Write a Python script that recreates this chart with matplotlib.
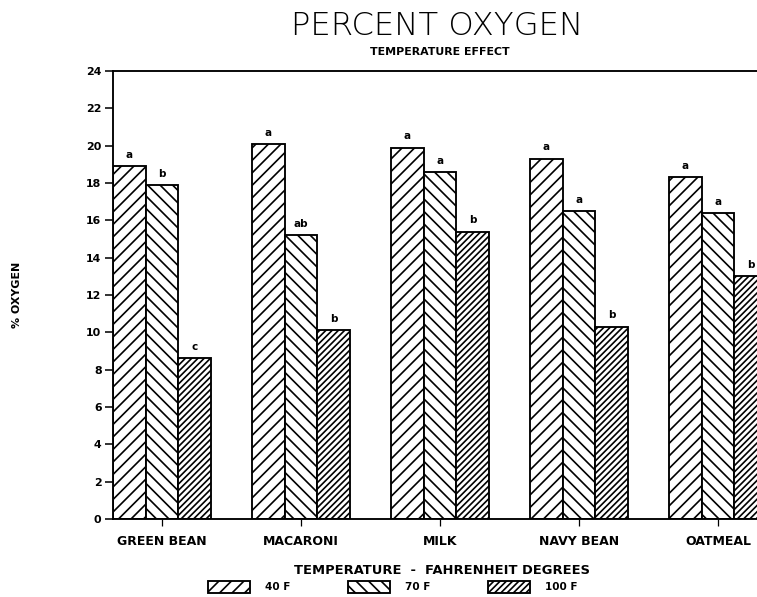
import numpy as np
import matplotlib
matplotlib.use('Agg')
from matplotlib import pyplot as plt

# data
foods = ['GREEN BEAN', 'MACARONI', 'MILK', 'NAVY BEAN', 'OATMEAL']
temps = ['40 F', '70 F', '100 F']
oxygen_40 = [18.9, 20.1, 19.9, 19.3, 18.3]
oxygen_70 = [17.9, 15.2, 18.6, 16.5, 16.4]
oxygen_100 = [8.6, 10.1, 15.4, 10.3, 13.0]
letters_40 = ['a', 'a', 'a', 'a', 'a']
letters_70 = ['b', 'ab', 'a', 'a', 'a']
letters_100 = ['c', 'b', 'b', 'b', 'b']

series = [oxygen_40, oxygen_70, oxygen_100]
letters = [letters_40, letters_70, letters_100]
hatches = ['//', '\\\\', '////']

plt.rcParams['hatch.linewidth'] = 1.6
plt.rcParams['font.family'] = ['DejaVu Sans']

DPI = 75
fig = plt.figure(figsize=(757 / DPI, 597 / DPI), dpi=DPI)
ax_w = 0.9095
ax = fig.add_axes([113 / 757, 78 / 597, ax_w, 448 / 597])

w = 0.2353
x = np.arange(len(foods))
bars = []
for i, (vals, hatch) in enumerate(zip(series, hatches)):
    pos = x + (i - 1) * w
    b = ax.bar(pos, vals, width=w, facecolor='white', edgecolor='black',
               linewidth=1.8, hatch=hatch, label=temps[i])
    bars.append(b)
    for xp, v, lt in zip(pos, vals, letters[i]):
        ax.annotate(lt, (xp, v), xytext=(0, 6), textcoords='offset points',
                    ha='center', va='bottom', fontsize=10, fontweight='bold')

ax.set_xlim(-1.5 * w, 4.6)
ax.set_ylim(0, 24)
ax.set_yticks(np.arange(0, 25, 2))
ax.set_xticks(x)
ax.set_xticklabels(foods, fontsize=12, fontweight='bold')
for lab in ax.get_yticklabels():
    lab.set_fontweight('bold')
ax.tick_params(axis='y', direction='out', length=8, width=1.5, labelsize=10.5, pad=3)
ax.tick_params(axis='x', direction='out', length=7, width=1.2, pad=8)
ax.spines['right'].set_visible(False)
for s in ['left', 'bottom', 'top']:
    ax.spines[s].set_linewidth(1.8)
ax.set_ylabel('% OXYGEN', fontsize=10.5, fontweight='bold')
ax.yaxis.set_label_coords((22 - 113) / (ax_w * 757), 0.5)

fig.text(437 / 757, 1 - 26 / 597, 'PERCENT OXYGEN', ha='center', va='center',
         fontsize=31, fontweight='light')
fig.text(440 / 757, 1 - 52 / 597, 'TEMPERATURE EFFECT', ha='center', va='center',
         fontsize=10.5, fontweight='bold')

fig.text(442 / 757, 1 - 571 / 597, 'TEMPERATURE  -  FAHRENHEIT DEGREES',
         ha='center', va='center', fontsize=12.5, fontweight='bold')
leg = fig.legend(handles=bars, labels=temps, loc='center',
                 bbox_to_anchor=(393 / 757, 1 - 587 / 597), ncol=3,
                 frameon=False, handlelength=4.0, handleheight=1.3,
                 columnspacing=5.5, handletextpad=1.5, borderpad=0.1,
                 prop={'size': 10, 'weight': 'bold'})

fig.savefig('out.png', dpi=DPI)
